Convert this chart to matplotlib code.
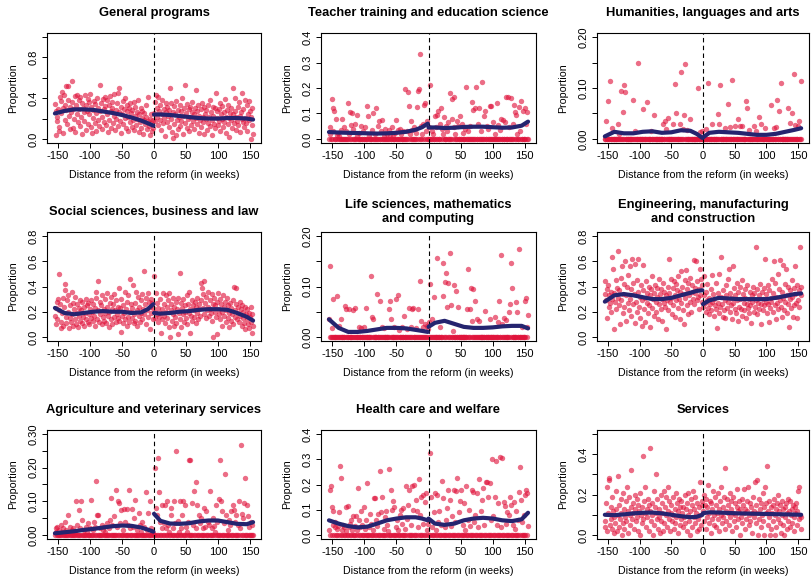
import numpy as np
import matplotlib
matplotlib.use("Agg")
import matplotlib.pyplot as plt

plt.rcParams['font.family'] = ['Liberation Sans', 'DejaVu Sans']
plt.rcParams['axes.unicode_minus'] = False

fit_wk_pre = [-155, -140, -125, -110, -95, -80, -65, -50, -35, -20, -10, -1]
fit_wk_post = [0, 10, 25, 40, 55, 70, 85, 100, 115, 130, 145, 155]

# --- General programs (hundredths), pre = weeks -155..-1, post = weeks 0..155
gen_pre = [34, 27, 4, 22, 18, 29, 12, 8, 41, 37, 25, 46, 30, 6, 43, 19, 33, 52, 28, 15,
           38, 52, 23, 10, 31, 26, 36, 57, 11, 29, 20, 42, 7, 33, 24, 43, 17, 38, 29, 13,
           41, 22, 35, 5, 30, 26, 18, 43, 33, 9, 27, 39, 15, 36, 24, 44, 12, 31, 6, 28,
           21, 37, 16, 34, 8, 25, 40, 19, 30, 13, 53, 27, 35, 10, 22, 39, 29, 17, 41, 32,
           14, 38, 24, 7, 33, 19, 42, 27, 11, 30, 36, 16, 23, 44, 9, 28, 20, 35, 13, 45,
           26, 50, 18, 31, 6, 24, 37, 15, 29, 21, 40, 11, 27, 33, 8, 22, 30, 17, 35, 25,
           12, 28, 19, 36, 9, 23, 31, 14, 26, 20, 38, 7, 24, 17, 30, 11, 21, 27, 5, 19,
           25, 15, 33, 22, 10, 18, 41, 13, 20, 4, 16, 24, 8, 19, 11]
gen_post = [25, 18, 36, 43, 22, 30, 14, 41, 27, 19, 33, 9, 24, 38, 16, 29, 21, 3, 26, 35,
            17, 31, 23, 12, 28, 50, 20, 35, 7, 26, 1, 32, 15, 24, 4, 37, 19, 28, 10, 22,
            33, 13, 27, 18, 40, 5, 23, 30, 53, 16, 25, 11, 34, 20, 29, 8, 22, 31, 14, 26,
            36, 18, 24, 10, 30, 21, 48, 15, 27, 33, 6, 23, 19, 29, 12, 35, 22, 17, 31, 5,
            24, 20, 28, 9, 33, 16, 22, 38, 13, 26, 19, 4, 31, 23, 15, 30, 11, 45, 21, 27,
            14, 29, 18, 35, 8, 24, 20, 32, 12, 26, 17, 39, 22, 6, 28, 15, 33, 21, 2, 25,
            19, 30, 11, 24, 50, 16, 27, 40, 9, 22, 18, 31, 14, 36, 23, 7, 26, 20, 45, 17,
            29, 12, 38, 21, 16, 33, 8, 24, 19, 37, 27, 0, 22, 14, 30, 5]
gen_fit_pre = [0.25, 0.275, 0.29, 0.29, 0.285, 0.27, 0.255, 0.235, 0.21, 0.18, 0.155, 0.13]
gen_fit_post = [0.24, 0.24, 0.235, 0.225, 0.215, 0.205, 0.2, 0.2, 0.205, 0.205, 0.2, 0.19]

# --- Teacher training and education science (thousandths)
tea_pre = [0, 20, 45, 0, 155, 0, 120, 30, 110, 0, 0, 80, 15, 0, 25, 0, 10, 0, 0, 35,
           0, 80, 0, 0, 45, 0, 30, 0, 0, 140, 0, 20, 105, 0, 55, 0, 100, 0, 40, 0,
           0, 60, 0, 10, 95, 0, 0, 25, 0, 0, 50, 0, 0, 30, 0, 0, 45, 0, 0, 130,
           0, 90, 0, 15, 0, 0, 0, 35, 0, 100, 0, 0, 20, 0, 120, 0, 0, 50, 70, 0,
           0, 30, 75, 0, 0, 10, 0, 40, 0, 0, 20, 0, 0, 35, 0, 15, 0, 0, 45, 0,
           10, 0, 0, 25, 75, 0, 0, 35, 0, 0, 40, 0, 20, 0, 0, 30, 0, 0, 195, 0,
           0, 30, 0, 185, 130, 0, 20, 0, 70, 0, 35, 0, 0, 45, 0, 25, 0, 125, 0, 190,
           195, 0, 335, 50, 0, 20, 60, 0, 135, 0, 140, 30, 0, 70, 0]
tea_post = [0, 45, 0, 210, 0, 30, 0, 20, 0, 0, 90, 45, 0, 95, 0, 110, 0, 0, 60, 120,
            0, 40, 20, 0, 85, 0, 0, 50, 0, 30, 65, 0, 0, 180, 0, 0, 80, 155, 0, 45,
            165, 0, 20, 0, 70, 0, 50, 0, 0, 90, 0, 0, 60, 0, 25, 0, 0, 40, 0, 205,
            0, 0, 30, 0, 50, 0, 0, 145, 0, 0, 115, 0, 120, 0, 205, 0, 0, 60, 120, 0,
            0, 30, 0, 225, 0, 0, 90, 0, 110, 0, 0, 50, 0, 40, 0, 0, 130, 0, 130, 0,
            0, 65, 0, 20, 0, 0, 140, 0, 0, 55, 0, 35, 0, 80, 0, 0, 75, 0, 0, 65,
            0, 165, 0, 0, 165, 0, 45, 0, 160, 0, 0, 60, 0, 135, 105, 0, 95, 0, 20, 0,
            0, 125, 0, 30, 150, 0, 0, 110, 0, 0, 120, 0, 60, 0, 105, 0]
tea_fit_pre = [0.027, 0.025, 0.024, 0.023, 0.022, 0.021, 0.022, 0.024, 0.028, 0.036, 0.046, 0.06]
tea_fit_post = [0.045, 0.045, 0.043, 0.044, 0.047, 0.048, 0.048, 0.046, 0.044, 0.045, 0.052, 0.068]

# --- Humanities, languages and arts (non-zero weeks only, thousandths)
hum_weeks = [-153, -150, -147, -143, -135, -133, -130, -127, -125, -123, -110, -107, -103, -95, -88,
             -82, -77, -63, -60, -58, -56, -48, -45, -43, -37, -34, -32, -30, -28, -25,
             -20, -8, -5, -2, 5, 8, 15, 23, 25, 27, 35, 40, 43, 46, 50, 55, 58, 62, 68,
             70, 72, 80, 83, 88, 92, 98, 108, 112, 115, 117, 120, 123, 135, 138, 140, 143,
             146, 150, 152, 155]
hum_vals = [35, 75, 113, 22, 30, 10, 95, 53, 106, 93, 77, 16, 149, 59, 72,
            16, 47, 30, 36, 20, 42, 30, 107, 50, 30, 131, 20, 47, 148, 18,
            40, 100, 13, 16, 20, 110, 30, 49, 30, 105, 22, 68, 23, 116, 26, 40, 26, 25, 75,
            61, 17, 25, 15, 44, 30, 22, 66, 22, 23, 77, 54, 109, 61, 31, 51, 128,
            27, 25, 36, 113]
hum_fit_pre = [0.005, 0.014, 0.011, 0.011, 0.014, 0.015, 0.012, 0.013, 0.017, 0.016, 0.01, 0.002]
hum_fit_post = [0.003, 0.012, 0.014, 0.013, 0.012, 0.01, 0.008, 0.008, 0.01, 0.014, 0.018, 0.021]

# --- Social sciences, business and law (hundredths)
soc_pre = [17, 10, 23, 14, 28, 30, 21, 50, 26, 12, 7, 19, 31, 9, 24, 37, 42, 16, 11, 29,
           20, 33, 7, 15, 25, 12, 36, 18, 9, 27, 22, 14, 32, 10, 19, 26, 8, 23, 17, 29,
           13, 21, 11, 28, 16, 24, 9, 19, 30, 14, 25, 12, 27, 18, 10, 22, 15, 29, 20, 13,
           26, 17, 23, 9, 31, 36, 14, 44, 21, 12, 28, 18, 25, 10, 33, 16, 22, 13, 30, 19,
           11, 24, 35, 17, 20, 8, 27, 14, 32, 22, 10, 26, 16, 34, 21, 12, 29, 18, 24, 15,
           39, 13, 23, 4, 30, 17, 11, 25, 19, 36, 14, 22, 9, 28, 16, 33, 12, 46, 20, 26,
           15, 23, 41, 18, 11, 27, 13, 36, 21, 9, 32, 17, 24, 12, 29, 19, 34, 14, 22, 52,
           18, 26, 10, 31, 21, 35, 16, 28, 6, 24, 30, 19, 27, 14, 23]
soc_post = [48, 20, 15, 35, 18, 27, 12, 23, 16, 30, 19, 3, 22, 14, 35, 17, 26, 11, 33, 20,
            24, 15, 29, 8, 35, 0, 21, 26, 13, 31, 18, 9, 24, 16, 28, 11, 22, 31, 2, 19,
            51, 14, 27, 8, 23, 18, 30, 12, 25, 20, 15, 33, 10, 26, 19, 36, 22, 3, 17, 29,
            13, 25, 21, 16, 28, 11, 24, 19, 31, 14, 22, 26, 17, 43, 29, 39, 23, 34, 18, 44,
            27, 15, 32, 21, 36, 24, 17, 29, 22, 19, 34, 13, 26, 0, 31, 20, 25, 16, 2, 28,
            35, 22, 18, 30, 14, 26, 20, 9, 33, 24, 17, 28, 12, 21, 31, 15, 25, 19, 8, 27,
            13, 23, 18, 29, 10, 40, 21, 16, 26, 39, 14, 24, 19, 12, 28, 17, 22, 9, 25, 15,
            20, 11, 24, 6, 18, 14, 22, 10, 19, 7, 16, 24, 12, 18, 3, 9]
soc_fit_pre = [0.23, 0.19, 0.18, 0.19, 0.2, 0.205, 0.2, 0.2, 0.19, 0.195, 0.22, 0.26]
soc_fit_post = [0.19, 0.185, 0.19, 0.2, 0.205, 0.215, 0.22, 0.22, 0.215, 0.19, 0.16, 0.13]

# --- Life sciences, mathematics and computing (non-zero weeks only, thousandths)
life_weeks = [-155, -153, -150, -148, -143, -140, -137, -130, -128, -124, -118, -115, -108, -105, -101,
              -97, -90, -88, -87, -80, -75, -73, -70, -62, -60, -58, -54, -50, -48, -46,
              -42, -38, -34, -30, -28, -26, -24, -20, -16, -14, -12, -8, -5, -3, -1,
              1, 2, 5, 8, 13, 18, 22, 23, 25, 27, 29, 31, 33, 35, 38,
              40, 43, 46, 60, 62, 64, 66, 68, 70, 72, 75, 78, 88, 95, 103,
              108, 110, 113, 115, 118, 121, 125, 127, 128, 130, 136, 138, 141, 145, 150,
              152, 153, 155]
life_vals = [35, 140, 18, 75, 82, 22, 35, 62, 56, 55, 53, 58, 20, 18, 20,
             57, 120, 40, 35, 85, 72, 20, 17, 56, 72, 35, 20, 76, 83, 13,
             20, 42, 16, 58, 20, 55, 57, 18, 55, 110, 32, 20, 25, 22, 16,
             30, 105, 35, 80, 156, 20, 82, 147, 108, 127, 60, 106, 166, 64, 12,
             102, 91, 60, 55, 134, 55, 98, 32, 96, 72, 35, 32, 52, 35, 40,
             30, 71, 163, 25, 38, 33, 50, 65, 147, 97, 70, 50, 174, 20, 71,
             77, 20, 44]
life_fit_pre = [0.035, 0.018, 0.01, 0.01, 0.012, 0.015, 0.018, 0.018, 0.017, 0.014, 0.012, 0.01]
life_fit_post = [0.02, 0.028, 0.032, 0.026, 0.02, 0.018, 0.018, 0.019, 0.021, 0.022, 0.022, 0.017]

# --- Engineering, manufacturing and construction (hundredths)
eng_pre = [34, 44, 29, 38, 15, 41, 24, 33, 27, 36, 20, 30, 63, 54, 6, 35, 28, 45, 22, 39,
           31, 68, 25, 37, 10, 47, 29, 56, 19, 34, 42, 24, 60, 33, 13, 40, 27, 49, 21, 56,
           30, 38, 17, 62, 26, 43, 34, 11, 58, 28, 45, 20, 36, 62, 24, 32, 15, 41, 29, 9,
           37, 57, 22, 31, 12, 44, 27, 35, 19, 40, 25, 33, 8, 38, 48, 23, 30, 17, 35, 41,
           28, 20, 39, 32, 14, 46, 26, 34, 22, 38, 30, 13, 43, 27, 36, 24, 33, 6, 29, 40,
           21, 35, 62, 28, 46, 31, 18, 39, 25, 44, 33, 16, 42, 29, 37, 23, 48, 30, 14, 36,
           52, 27, 40, 21, 34, 10, 45, 31, 53, 25, 38, 18, 43, 33, 28, 47, 20, 36, 41, 30,
           61, 26, 39, 35, 60, 29, 44, 32, 22, 38, 54, 33, 46, 28, 41]
eng_post = [24, 48, 33, 27, 20, 36, 29, 42, 23, 18, 31, 26, 38, 21, 49, 28, 34, 17, 30, 25,
            43, 22, 7, 35, 27, 19, 50, 24, 32, 63, 26, 16, 37, 21, 29, 15, 33, 41, 23, 46,
            28, 54, 20, 35, 25, 31, 14, 56, 27, 39, 22, 33, 19, 43, 29, 13, 36, 24, 40, 30,
            22, 45, 17, 34, 27, 21, 38, 31, 15, 26, 41, 23, 30, 19, 36, 25, 11, 33, 28, 40,
            20, 35, 24, 71, 29, 18, 38, 27, 33, 22, 42, 26, 10, 36, 30, 21, 39, 25, 62, 28,
            34, 19, 41, 26, 12, 37, 23, 31, 28, 46, 20, 35, 60, 25, 43, 14, 32, 27, 50, 22,
            38, 29, 61, 24, 36, 16, 57, 31, 21, 42, 28, 54, 33, 19, 40, 26, 8, 37, 30, 23,
            45, 32, 16, 39, 25, 56, 34, 27, 15, 41, 29, 37, 24, 71, 33, 40]
eng_fit_pre = [0.28, 0.33, 0.34, 0.33, 0.315, 0.3, 0.3, 0.31, 0.33, 0.35, 0.365, 0.37]
eng_fit_post = [0.26, 0.29, 0.31, 0.305, 0.3, 0.3, 0.3, 0.3, 0.31, 0.325, 0.34, 0.345]

# --- Agriculture and veterinary services (thousandths)
agr_pre = [0, 20, 10, 0, 25, 0, 15, 0, 0, 30, 0, 10, 0, 20, 0, 0, 40, 0, 15, 0,
           60, 0, 10, 25, 0, 0, 15, 0, 20, 0, 0, 10, 0, 100, 0, 30, 0, 75, 0, 20,
           0, 100, 0, 45, 0, 15, 0, 0, 25, 0, 10, 0, 35, 0, 0, 20, 0, 103, 0, 15,
           0, 40, 0, 25, 160, 0, 60, 0, 60, 0, 20, 0, 0, 30, 0, 15, 0, 25, 0, 10,
           0, 35, 0, 0, 20, 0, 45, 0, 110, 0, 30, 0, 55, 0, 0, 135, 0, 25, 0, 100,
           95, 0, 35, 0, 75, 0, 15, 0, 78, 0, 40, 0, 77, 0, 30, 0, 133, 0, 20, 0,
           78, 0, 25, 0, 50, 0, 105, 0, 15, 0, 0, 65, 0, 30, 0, 10, 0, 40, 0, 0,
           25, 0, 128, 0, 15, 0, 65, 0, 100, 0, 20, 0, 10, 0, 5]
agr_post = [0, 200, 0, 80, 60, 0, 230, 0, 128, 0, 40, 0, 20, 90, 0, 35, 0, 90, 0, 20,
            100, 0, 30, 0, 10, 0, 80, 60, 0, 20, 0, 100, 0, 35, 0, 250, 0, 42, 0, 10,
            100, 0, 20, 0, 60, 0, 102, 0, 88, 0, 25, 0, 10, 40, 0, 222, 0, 222, 0, 95,
            0, 30, 0, 132, 0, 20, 158, 0, 90, 0, 60, 0, 35, 0, 50, 0, 20, 0, 80, 0,
            25, 0, 72, 0, 40, 0, 30, 0, 132, 0, 20, 0, 50, 0, 28, 0, 10, 90, 0, 40,
            0, 108, 0, 222, 0, 100, 0, 70, 0, 35, 0, 180, 0, 60, 0, 15, 0, 45, 0, 30,
            0, 70, 0, 88, 0, 75, 0, 40, 0, 60, 0, 30, 0, 100, 0, 20, 267, 63, 0, 50,
            0, 96, 0, 168, 0, 88, 0, 55, 0, 25, 0, 40, 0, 30, 0, 0]
agr_fit_pre = [0.005, 0.008, 0.011, 0.015, 0.018, 0.022, 0.026, 0.028, 0.027, 0.022, 0.016, 0.01]
agr_fit_post = [0.063, 0.042, 0.034, 0.033, 0.035, 0.04, 0.043, 0.043, 0.038, 0.033, 0.032, 0.038]

# --- Health care and welfare (thousandths)
hea_pre = [20, 180, 0, 195, 110, 0, 40, 95, 0, 30, 50, 0, 25, 0, 35, 0, 90, 275, 0, 225,
           20, 0, 40, 0, 30, 0, 15, 110, 0, 115, 0, 30, 0, 45, 0, 60, 20, 0, 75, 0,
           35, 0, 75, 0, 20, 185, 0, 60, 0, 30, 95, 0, 40, 0, 110, 0, 25, 0, 60, 0,
           205, 0, 30, 0, 85, 0, 45, 0, 20, 0, 145, 0, 145, 60, 0, 35, 0, 85, 0, 255,
           0, 90, 0, 150, 0, 25, 0, 70, 0, 95, 40, 0, 15, 0, 260, 0, 180, 0, 100, 0,
           135, 0, 110, 0, 30, 0, 60, 0, 20, 0, 80, 0, 100, 0, 45, 0, 105, 0, 25, 0,
           195, 0, 65, 120, 0, 180, 0, 40, 0, 195, 0, 100, 0, 200, 0, 140, 0, 95, 0, 30,
           220, 0, 80, 0, 150, 0, 45, 160, 0, 130, 0, 165, 0, 20, 45]
hea_post = [0, 60, 325, 0, 150, 0, 30, 0, 90, 0, 165, 0, 20, 160, 0, 50, 0, 95, 0, 40,
            0, 215, 0, 145, 0, 30, 0, 60, 0, 105, 0, 180, 0, 140, 0, 35, 0, 75, 0, 180,
            0, 50, 0, 175, 0, 225, 0, 90, 0, 135, 0, 180, 0, 40, 0, 125, 0, 20, 0, 195,
            0, 60, 0, 100, 0, 35, 0, 180, 0, 170, 0, 50, 0, 80, 0, 165, 0, 30, 0, 220,
            0, 95, 0, 140, 0, 185, 0, 40, 0, 210, 0, 210, 0, 150, 0, 205, 0, 60, 0, 300,
            0, 75, 0, 150, 0, 295, 0, 40, 0, 125, 0, 310, 0, 30, 0, 305, 0, 130, 0, 115,
            0, 45, 0, 90, 0, 80, 0, 150, 0, 120, 0, 40, 0, 130, 0, 25, 0, 95, 0, 60,
            0, 170, 268, 0, 140, 0, 50, 0, 80, 0, 160, 0, 180, 0, 165, 35]
hea_fit_pre = [0.058, 0.045, 0.035, 0.03, 0.033, 0.045, 0.058, 0.065, 0.07, 0.07, 0.065, 0.058]
hea_fit_post = [0.065, 0.045, 0.04, 0.045, 0.058, 0.065, 0.068, 0.065, 0.058, 0.055, 0.062, 0.088]

# --- Services (hundredths)
ser_pre = [7, 4, 16, 2, 24, 11, 27, 28, 5, 14, 8, 3, 19, 12, 1, 9, 6, 22, 13, 2,
           10, 29, 4, 15, 8, 18, 11, 0, 6, 21, 13, 3, 9, 17, 7, 24, 12, 1, 19, 10,
           5, 14, 32, 8, 16, 11, 3, 20, 13, 7, 18, 9, 2, 15, 12, 0, 21, 10, 6, 14,
           39, 8, 17, 11, 24, 4, 13, 9, 18, 15, 2, 12, 43, 7, 16, 10, 0, 22, 5, 14,
           11, 30, 8, 18, 3, 13, 9, 1, 20, 7, 16, 11, 2, 22, 6, 14, 10, 19, 4, 12,
           24, 8, 17, 2, 11, 15, 7, 19, 10, 3, 13, 6, 21, 9, 16, 1, 12, 18, 5, 14,
           8, 17, 11, 4, 14, 9, 20, 6, 13, 2, 16, 10, 21, 7, 12, 0, 18, 15, 4, 22,
           9, 13, 6, 19, 11, 2, 16, 8, 14, 3, 26, 10, 5, 15, 17]
ser_post = [12, 7, 20, 15, 3, 18, 9, 14, 25, 6, 11, 17, 1, 16, 8, 13, 22, 5, 10, 19,
            4, 15, 11, 21, 8, 13, 2, 17, 10, 24, 6, 14, 9, 19, 3, 33, 12, 7, 18, 11,
            15, 5, 21, 9, 13, 17, 2, 11, 19, 7, 16, 10, 4, 14, 23, 8, 12, 17, 0, 13,
            9, 18, 6, 15, 11, 23, 3, 13, 8, 17, 12, 24, 5, 10, 16, 7, 14, 11, 1, 19,
            12, 9, 26, 6, 15, 27, 11, 0, 18, 8, 13, 4, 16, 10, 21, 7, 14, 0, 24, 11,
            16, 34, 5, 12, 9, 17, 0, 14, 3, 11, 15, 7, 18, 0, 10, 13, 4, 16, 8, 20,
            12, 6, 15, 1, 17, 10, 5, 13, 0, 14, 9, 16, 3, 11, 18, 7, 12, 4, 17, 10,
            13, 6, 15, 9, 2, 14, 11, 16, 5, 12, 22, 8, 24, 10, 3, 9]
ser_fit_pre = [0.1, 0.098, 0.102, 0.107, 0.11, 0.111, 0.107, 0.1, 0.093, 0.088, 0.09, 0.1]
ser_fit_post = [0.108, 0.112, 0.111, 0.109, 0.107, 0.106, 0.105, 0.104, 0.103, 0.102, 0.101, 0.1]

FIG_W, FIG_H = 811, 578
COLS = [(47, 261), (321, 536), (597, 809)]   # pixel left/right of each panel box
ROWS = [(33, 143), (232, 341), (430, 539)]   # pixel top/bottom of each panel box
WEEKS = np.arange(-155, 156)
POINT_COLOR = '#E0143C'
LINE_COLOR = '#25246F'


def full_series(pre, post, scale):
    x = np.concatenate([np.arange(-len(pre), 0), np.arange(len(post))])
    y = np.concatenate([pre, post]) / scale
    return x, y


def sparse_series(weeks, vals, scale):
    y = np.zeros(len(WEEKS))
    for w, v in zip(weeks, vals):
        y[w + 155] = v / scale
    return WEEKS, y


def draw_panel(ax, title, x, y, fit_pre, fit_post, ymax, ystep, labels):
    ax.scatter(x, y, s=15, color=POINT_COLOR, alpha=0.62, linewidths=0, zorder=2)
    ax.axvline(0, color='black', lw=0.8, ls=(0, (4, 3)), zorder=3)
    ax.plot(fit_wk_pre, fit_pre, color=LINE_COLOR, lw=3, solid_capstyle='round', zorder=4)
    ax.plot(fit_wk_post, fit_post, color=LINE_COLOR, lw=3, solid_capstyle='round', zorder=4)

    ax.set_xlim(-167.4, 167.4)
    ax.set_ylim(-0.04 * ymax, 1.04 * ymax)
    ax.set_xticks([-150, -100, -50, 0, 50, 100, 150])
    yt = np.arange(0, ymax + ystep / 2, ystep)
    ax.set_yticks(yt)
    ax.set_yticklabels(labels)
    ax.tick_params(direction='out', length=3.6, width=0.7, labelsize=8, pad=2.5)
    ax.tick_params(axis='y', labelrotation=90)
    for lab in ax.get_yticklabels():
        lab.set_va('center')
    for sp in ax.spines.values():
        sp.set_linewidth(0.8)

    ax.annotate(title, xy=(0.5, 1), xycoords='axes fraction', xytext=(0, 14.4),
                textcoords='offset points', ha='center', va='center',
                fontweight='bold', fontsize=9.3, linespacing=1.15)
    ax.annotate('Proportion', xy=(0, 0.5), xycoords='axes fraction', xytext=(-24.5, 0),
                textcoords='offset points', ha='center', va='center', rotation=90, fontsize=7.7)
    ax.annotate('Distance from the reform (in weeks)', xy=(0.5, 0), xycoords='axes fraction',
                xytext=(0, -23), textcoords='offset points', ha='center', va='center', fontsize=7.7)


def main():
    panels = [
        ('General programs', full_series(gen_pre, gen_post, 100), gen_fit_pre, gen_fit_post,
         1.0, 0.2, ['0.0', '', '0.4', '', '0.8', '']),
        ('Teacher training and education science', full_series(tea_pre, tea_post, 1000),
         tea_fit_pre, tea_fit_post, 0.4, 0.1, ['0.0', '0.1', '0.2', '0.3', '0.4']),
        ('Humanities, languages and arts', sparse_series(hum_weeks, hum_vals, 1000),
         hum_fit_pre, hum_fit_post, 0.2, 0.05, ['0.00', '', '0.10', '', '0.20']),
        ('Social sciences, business and law', full_series(soc_pre, soc_post, 100),
         soc_fit_pre, soc_fit_post, 0.8, 0.2, ['0.0', '0.2', '0.4', '0.6', '0.8']),
        ('Life sciences, mathematics\nand computing', sparse_series(life_weeks, life_vals, 1000),
         life_fit_pre, life_fit_post, 0.2, 0.05, ['0.00', '', '0.10', '', '0.20']),
        ('Engineering, manufacturing\nand construction', full_series(eng_pre, eng_post, 100),
         eng_fit_pre, eng_fit_post, 0.8, 0.2, ['0.0', '0.2', '0.4', '0.6', '0.8']),
        ('Agriculture and veterinary services', full_series(agr_pre, agr_post, 1000),
         agr_fit_pre, agr_fit_post, 0.3, 0.05, ['0.00', '', '0.10', '', '0.20', '', '0.30']),
        ('Health care and welfare', full_series(hea_pre, hea_post, 1000),
         hea_fit_pre, hea_fit_post, 0.4, 0.1, ['0.0', '0.1', '0.2', '0.3', '0.4']),
        ('Services', full_series(ser_pre, ser_post, 100), ser_fit_pre, ser_fit_post,
         0.5, 0.1, ['0.0', '', '0.2', '', '0.4', '']),
    ]

    fig = plt.figure(figsize=(FIG_W / 100, FIG_H / 100), dpi=100)
    for i, (title, (x, y), fpre, fpost, ymax, ystep, labels) in enumerate(panels):
        l, r = COLS[i % 3]
        t, b = ROWS[i // 3]
        ax = fig.add_axes([l / FIG_W, 1 - b / FIG_H, (r - l) / FIG_W, (b - t) / FIG_H])
        draw_panel(ax, title, x, y, fpre, fpost, ymax, ystep, labels)

    fig.savefig('out.png', dpi=100)


if __name__ == '__main__':
    main()
